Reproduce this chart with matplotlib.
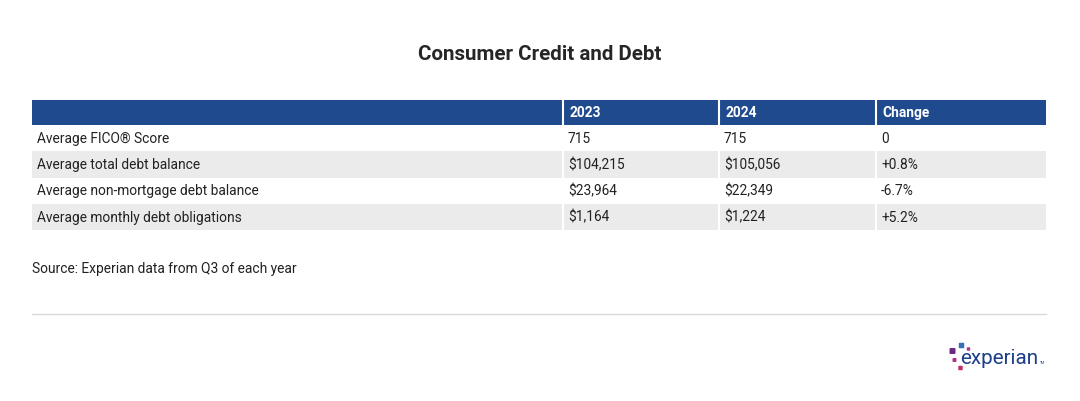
import matplotlib.pyplot as plt
from matplotlib.patches import Rectangle, FancyBboxPatch

plt.rcParams['font.family'] = ['Roboto', 'DejaVu Sans']

title = "Consumer Credit and Debt"
columns = ["", "2023", "2024", "Change"]
metrics = ["Average FICO\u00ae Score", "Average total debt balance",
           "Average non-mortgage debt balance", "Average monthly debt obligations"]
values_2023 = ["715", "$104,215", "$23,964", "$1,164"]
values_2024 = ["715", "$105,056", "$22,349", "$1,224"]
changes = ["0", "+0.8%", "-6.7%", "+5.2%"]
source = "Source: Experian data from Q3 of each year"

W, H = 1080, 401
fig = plt.figure(figsize=(W / 100, H / 100), dpi=100)
ax = fig.add_axes([0, 0, 1, 1])
ax.set_xlim(0, W)
ax.set_ylim(H, 0)
ax.axis("off")

header_color = "#1f4b8e"
stripe_color = "#ebebeb"
text_color = "#222222"
fs = 9.9

col_edges = [32, 563, 719, 876, 1046]
header_top, header_h, row_h = 100, 25, 26.3

ax.text(540, 55, title, ha="center", va="center", fontsize=14.8,
        fontweight="bold", color="#262626")

# header row
for i, name in enumerate(columns):
    x0, x1 = col_edges[i], col_edges[i + 1]
    ax.add_patch(Rectangle((x0, header_top), x1 - x0, header_h,
                           facecolor=header_color, edgecolor="none"))
    if name:
        ax.text(x0 + 6, header_top + header_h / 2 + 0.5, name, ha="left",
                va="center", fontsize=fs, fontweight="bold", color="white")

# body rows
rows = list(zip(metrics, values_2023, values_2024, changes))
for r, row in enumerate(rows):
    y0 = header_top + header_h + r * row_h
    bg = stripe_color if r % 2 == 1 else "white"
    for i, cell in enumerate(row):
        x0, x1 = col_edges[i], col_edges[i + 1]
        ax.add_patch(Rectangle((x0, y0), x1 - x0, row_h,
                               facecolor=bg, edgecolor="none"))
        ax.text(x0 + 5, y0 + row_h / 2 + 0.5, cell, ha="left", va="center",
                fontsize=fs, color=text_color)

# white column separators
table_bottom = header_top + header_h + len(rows) * row_h
for x in col_edges[1:-1]:
    ax.plot([x, x], [header_top, table_bottom], color="white", lw=1.5)

ax.text(32, 269, source, ha="left", va="center", fontsize=fs, color=text_color)
ax.plot([32, 1046], [314, 314], color="#d9d9d9", lw=1)

# experian logo
squares = [(961.5, 345.5, 5.5, "#3a6fb7"), (952.5, 351, 6, "#6b2c83"),
           (968.5, 349, 3.5, "#b0338a"), (954.5, 360, 4, "#b0338a"),
           (960.5, 368, 4.5, "#c0306f")]
for cx, cy, s, c in squares:
    ax.add_patch(FancyBboxPatch((cx - s / 2, cy - s / 2), s, s,
                                boxstyle="round,pad=0,rounding_size=1",
                                facecolor=c, edgecolor="none"))
ax.text(960, 358, "experian", ha="left", va="center", fontsize=14.9,
        color="#1d3f8a")
ax.text(1040, 363, "TM", ha="left", va="center", fontsize=2.5, color="#1d3f8a")

fig.savefig("out.png", dpi=100, facecolor="white")
